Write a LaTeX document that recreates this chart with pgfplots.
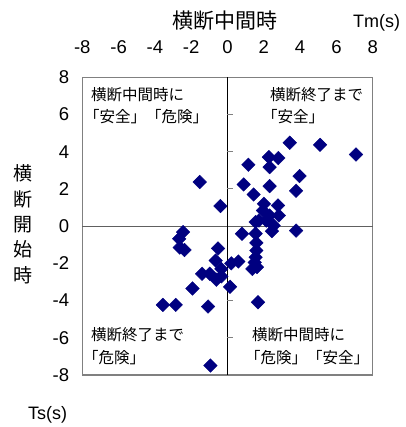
\documentclass[border=0pt]{standalone}
\usepackage{fontspec}
\setmainfont{Liberation Sans}
\newfontfamily\jp{Noto Sans CJK JP}
\usepackage{pgfplots}
\pgfplotsset{compat=1.18}
\definecolor{navy}{RGB}{0,0,128}
\definecolor{framegray}{RGB}{128,128,128}
\definecolor{zerogray}{RGB}{96,96,96}
\begin{document}
\begin{tikzpicture}
\useasboundingbox (0bp,0bp) rectangle (406bp,427bp);
\begin{axis}[
  at={(82.3bp,52bp)}, anchor=south west,
  scale only axis, width=290.4bp, height=297.7bp,
  xmin=-8, xmax=8, ymin=-8, ymax=8,
  xtick={-8,-6,...,8}, ytick={-8,-6,...,8},
  xticklabel pos=right,
  tick style={draw=none},
  axis line style={draw=framegray, line width=1.2bp},
  /pgf/number format/assume math mode=true,
  ticklabel style={font=\fontsize{18.5bp}{22bp}\selectfont},
  xticklabel style={anchor=base, yshift=24bp},
  yticklabel style={anchor=east, inner sep=0pt, xshift=-13bp},
  clip=false,
]
\draw[zerogray, line width=1.2bp] (axis cs:-8,0) -- (axis cs:8,0);
\draw[black, line width=1bp] (axis cs:0,-8) -- (axis cs:0,8);
\pgfplotsinvokeforeach{-6,-4,-2,2,4,6}{
  \draw[framegray, line width=1bp] (axis cs:0,#1) -- ++(6bp,0bp);
}
\addplot[only marks, mark=square*, mark size=4.8bp,
  mark options={rotate=45, fill=navy, draw=navy}] coordinates {
(3.43,4.48) (5.10,4.37) (7.08,3.85) (2.28,3.71) (2.80,3.66)
(1.15,3.30) (2.32,3.17) (3.97,2.69) (-1.53,2.37) (0.89,2.24)
(2.32,2.15) (3.78,1.90) (1.44,1.70) (2.01,1.20) (2.78,1.11)
(-0.39,1.08) (1.95,0.84) (2.32,0.57) (2.83,0.57) (1.73,0.30)
(2.14,0.30) (1.55,0.22) (2.54,0.03) (2.45,-0.27) (3.78,-0.24)
(0.80,-0.41)
(1.55,-0.40) (1.59,-0.90) (1.59,-1.31) (1.55,-1.67) (1.50,-1.95)
(1.37,-2.30) (1.62,-2.20) (1.68,-4.09)
(-2.45,-0.32) (-2.66,-0.68) (-2.63,-1.15) (-2.37,-1.28)
(-0.52,-1.20) (-0.65,-1.85) (-0.34,-2.30) (0.21,-2.00) (0.60,-1.90)
(-1.40,-2.56) (-0.98,-2.56) (-0.61,-2.88) (-0.34,-2.70)
(-1.93,-3.35) (0.14,-3.26) (-3.56,-4.23) (-2.85,-4.23)
(-1.07,-4.32) (-0.94,-7.49)
};
\end{axis}
% titles
\node[anchor=base, inner sep=0pt, font=\jp\fontsize{21bp}{24bp}\selectfont] at (225bp,398.5bp) {横断中間時};
\node[anchor=base west, inner sep=0pt, font=\fontsize{18bp}{22bp}\selectfont] at (353bp,399bp) {Tm(s)};
\node[anchor=base west, inner sep=0pt, font=\fontsize{18bp}{22bp}\selectfont] at (28bp,8bp) {Ts(s)};
\node[align=center, inner sep=0pt, font=\jp\fontsize{19bp}{25.4bp}\selectfont] at (23.3bp,202.8bp) {横\\断\\開\\始\\時};
% quadrant notes
\begin{scope}[every node/.style={anchor=base west, inner sep=0pt, font=\jp\fontsize{15.5bp}{20bp}\selectfont}]
\node at (91bp,326.5bp) {横断中間時に};
\node at (84bp,304bp) {「安全」「危険」};
\node at (270bp,326.5bp) {横断終了まで};
\node at (262bp,304bp) {「安全」};
\node at (91bp,86bp) {横断終了まで};
\node at (83bp,63bp) {「危険」};
\node at (252bp,86bp) {横断中間時に};
\node at (245bp,63bp) {「危険」「安全」};
\end{scope}
\end{tikzpicture}
\end{document}
